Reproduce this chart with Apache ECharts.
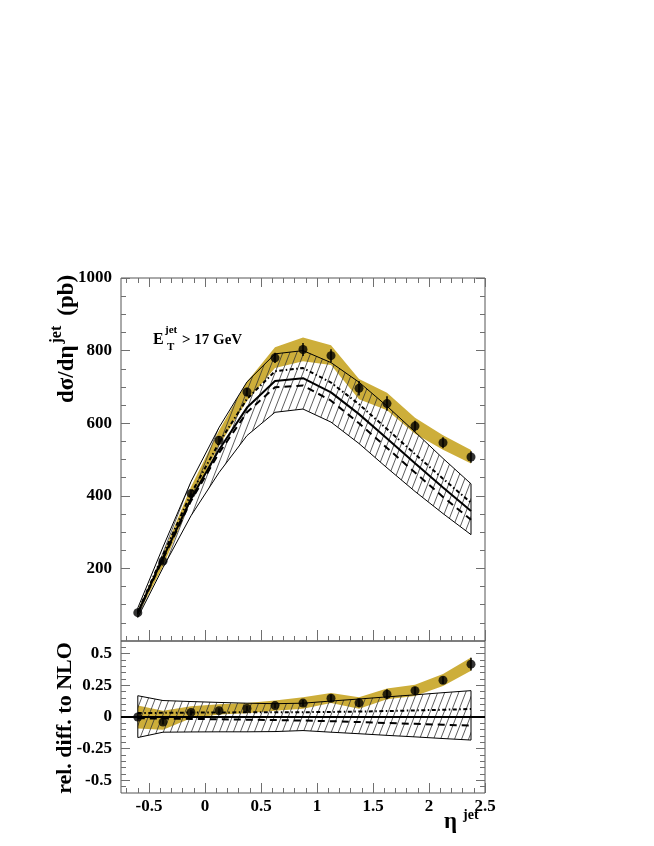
<!DOCTYPE html>
<html>
<head>
<meta charset="utf-8">
<script src="https://cdn.jsdelivr.net/npm/echarts@6/dist/echarts.min.js"></script>
<style>
html,body{margin:0;padding:0;background:#fff;}
#c{width:654px;height:846px;}
</style>
</head>
<body>
<div id="c"></div>
<script>
// ---------------- data ----------------
const eta = [-0.6, -0.375, -0.125, 0.125, 0.375, 0.625, 0.875, 1.125, 1.375, 1.625, 1.875, 2.125, 2.375];

// upper panel: d sigma / d eta (pb)
const dataXs   = [78, 220, 406, 553, 686, 780, 803, 786, 696, 654, 592, 546, 507];
const dataErr  = [4, 8, 10, 12, 12, 14, 18, 18, 20, 20, 15, 15, 16];
const scaleUp  = [85, 240, 425, 580, 714, 809, 836, 815, 722, 684, 615, 567, 526];
const scaleLow = [71, 206, 388, 538, 662, 752, 771, 760, 666, 636, 571, 527, 489];
const nlo      = [78, 229, 392, 527, 643, 716, 724, 685, 625, 558, 490, 423, 358];
const nloUp    = [91, 259, 439, 588, 714, 791, 800, 767, 713, 647, 576, 503, 433];
const nloLow   = [65, 202, 345, 464, 566, 630, 639, 603, 544, 477, 412, 351, 293];
const nloAlt1  = [80, 237, 406, 546, 667, 743, 752, 712, 652, 584, 515, 447, 381]; // dash-dot
const nloAlt2  = [77, 226, 386, 518, 630, 699, 704, 662, 600, 532, 464, 397, 334]; // dashed

// lower panel: relative difference to NLO
const relData     = [0.0, -0.04, 0.036, 0.05, 0.067, 0.09, 0.11, 0.148, 0.112, 0.18, 0.208, 0.29, 0.417];
const relErr      = [0.01, 0.02, 0.02, 0.02, 0.02, 0.02, 0.025, 0.03, 0.035, 0.04, 0.03, 0.03, 0.05];
const relScaleUp  = [0.09, 0.05, 0.085, 0.1, 0.11, 0.13, 0.155, 0.19, 0.155, 0.225, 0.255, 0.34, 0.47];
const relScaleLow = [-0.09, -0.1, -0.01, 0.02, 0.03, 0.05, 0.065, 0.11, 0.065, 0.14, 0.165, 0.245, 0.365];
const relNloUp    = [0.168, 0.13, 0.122, 0.115, 0.109, 0.105, 0.109, 0.126, 0.142, 0.159, 0.175, 0.192, 0.208];
const relNloLow   = [-0.162, -0.12, -0.118, -0.117, -0.117, -0.115, -0.107, -0.12, -0.132, -0.145, -0.157, -0.17, -0.182];
const relAlt1     = [0.031, 0.033, 0.035, 0.036, 0.037, 0.038, 0.038, 0.04, 0.043, 0.047, 0.052, 0.057, 0.063];
const relAlt2     = [-0.01, -0.012, -0.015, -0.018, -0.021, -0.024, -0.028, -0.033, -0.04, -0.047, -0.054, -0.061, -0.068];

// ticks
const xMajor = [-0.5, 0, 0.5, 1, 1.5, 2, 2.5];
const yTopMajor = [200, 400, 600, 800, 1000];
const yBotMajor = [-0.5, -0.25, 0, 0.25, 0.5];

// ---------------- helpers ----------------
const FONT = '"Liberation Serif", "DejaVu Serif", serif';
const yellow = '#cdae3a';
const tickColor = '#6f6f6f';

function minorVals(from, to, step, majors) {
  const out = [];
  const n = Math.round((to - from) / step);
  for (let i = 0; i <= n; i++) {
    const v = Math.round((from + i * step) * 1000) / 1000;
    if (!majors.some(m => Math.abs(m - v) < 1e-9)) out.push(v);
  }
  return out;
}
const xMinor = minorVals(-0.7, 2.4, 0.1, xMajor);
const yTopMinor = minorVals(50, 950, 50, yTopMajor.concat([0]));
const yBotMinor = minorVals(-0.55, 0.55, 0.05, yBotMajor);

const xAxes = [], yAxes = [];
function addAxis(list, grid, pos, min, max, values, len, labels) {
  const ax = {
    type: 'value', gridIndex: grid, position: pos, min: min, max: max,
    axisLine: { show: false, onZero: false }, splitLine: { show: false },
    axisTick: { show: true, inside: true, length: len, customValues: values,
      lineStyle: { color: tickColor, width: 1 } },
    axisLabel: { show: false }
  };
  if (labels) {
    ax.axisLabel = {
      show: true, customValues: values, margin: labels.margin,
      fontFamily: FONT, fontWeight: 'bold', fontSize: 17, color: '#000',
      formatter: v => String(v)
    };
  }
  list.push(ax);
  return list.length - 1;
}

// top panel axes
const X0 = addAxis(xAxes, 0, 'bottom', -0.75, 2.5, xMajor, 11, null);
addAxis(xAxes, 0, 'bottom', -0.75, 2.5, xMinor, 5, null);
addAxis(xAxes, 0, 'top', -0.75, 2.5, xMajor, 9, null);
addAxis(xAxes, 0, 'top', -0.75, 2.5, xMinor, 5, null);
const Y0 = addAxis(yAxes, 0, 'left', 0, 1000, yTopMajor, 9, { margin: 9 });
addAxis(yAxes, 0, 'left', 0, 1000, yTopMinor, 5, null);
addAxis(yAxes, 0, 'right', 0, 1000, yTopMajor, 9, null);
addAxis(yAxes, 0, 'right', 0, 1000, yTopMinor, 5, null);
// bottom panel axes
const X1 = addAxis(xAxes, 1, 'bottom', -0.75, 2.5, xMajor, 10, { margin: 5 });
addAxis(xAxes, 1, 'bottom', -0.75, 2.5, xMinor, 5, null);
const Y1 = addAxis(yAxes, 1, 'left', -0.6, 0.6, yBotMajor, 9, { margin: 9 });
addAxis(yAxes, 1, 'left', -0.6, 0.6, yBotMinor, 5, null);
addAxis(yAxes, 1, 'right', -0.6, 0.6, yBotMajor, 9, null);
addAxis(yAxes, 1, 'right', -0.6, 0.6, yBotMinor, 5, null);

function hatchPattern() {
  const w = 7, h = 18;
  const c = document.createElement('canvas');
  c.width = w; c.height = h;
  const g = c.getContext('2d');
  g.strokeStyle = '#333';
  g.lineWidth = 0.8;
  g.beginPath();
  for (let k = -1; k <= 1; k++) { g.moveTo(k * w, h); g.lineTo(k * w + w, 0); }
  g.stroke();
  return c;
}
const hatchFill = { image: hatchPattern(), repeat: 'repeat' };

function bandSeries(xi, yi, up, low, fill, stroke, z) {
  return {
    type: 'custom', xAxisIndex: xi, yAxisIndex: yi, z: z, clip: true, silent: true,
    data: [[eta[0], up[0]]],
    renderItem: function (params, api) {
      const pts = [];
      for (let i = 0; i < eta.length; i++) pts.push(api.coord([eta[i], up[i]]));
      for (let i = eta.length - 1; i >= 0; i--) pts.push(api.coord([eta[i], low[i]]));
      return { type: 'polygon', shape: { points: pts },
        style: { fill: fill, stroke: stroke, lineWidth: stroke ? 1 : 0 } };
    }
  };
}
function lineSeries(xi, yi, vals, type, width, z) {
  return {
    type: 'line', xAxisIndex: xi, yAxisIndex: yi, z: z, silent: true,
    symbol: 'none', data: eta.map((x, i) => [x, vals[i]]),
    lineStyle: { color: '#000', width: width, type: type, cap: 'butt' }
  };
}
function errSeries(xi, yi, vals, errs) {
  return {
    type: 'custom', xAxisIndex: xi, yAxisIndex: yi, z: 8, silent: true,
    data: eta.map((x, i) => [x, vals[i], errs[i]]),
    renderItem: function (params, api) {
      const x = api.value(0), y = api.value(1), e = api.value(2);
      const a = api.coord([x, y - e]), b = api.coord([x, y + e]);
      return { type: 'line', shape: { x1: a[0], y1: a[1], x2: b[0], y2: b[1] },
        style: { stroke: '#000', lineWidth: 1.5 } };
    }
  };
}
function pointSeries(xi, yi, vals) {
  return {
    type: 'scatter', xAxisIndex: xi, yAxisIndex: yi, z: 9, silent: true,
    symbol: 'circle', symbolSize: 9, itemStyle: { color: '#000' },
    data: eta.map((x, i) => [x, vals[i]])
  };
}

const dashDot = [4, 2.5, 1.5, 2.5];
const dashed = [7, 5];

const series = [
  bandSeries(X0, Y0, scaleUp, scaleLow, yellow, null, 1),
  bandSeries(X0, Y0, nloUp, nloLow, hatchFill, '#000', 2),
  lineSeries(X0, Y0, nlo, 'solid', 2, 5),
  lineSeries(X0, Y0, nloAlt1, dashDot, 2, 5),
  lineSeries(X0, Y0, nloAlt2, dashed, 2, 5),
  errSeries(X0, Y0, dataXs, dataErr),
  pointSeries(X0, Y0, dataXs),

  bandSeries(X1, Y1, relScaleUp, relScaleLow, yellow, null, 1),
  bandSeries(X1, Y1, relNloUp, relNloLow, hatchFill, '#000', 2),
  lineSeries(X1, Y1, relAlt1, dashDot, 2, 5),
  Object.assign(lineSeries(X1, Y1, relAlt2, dashed, 2, 5), {
    markLine: { silent: true, symbol: 'none', label: { show: false },
      lineStyle: { color: '#000', width: 1.8, type: 'solid' },
      data: [{ yAxis: 0 }] }
  }),
  errSeries(X1, Y1, relData, relErr),
  pointSeries(X1, Y1, relData)
];

// -------- text helpers --------
const mctx = document.createElement('canvas').getContext('2d');
function tw(text, font) { mctx.font = font; return mctx.measureText(text).width; }
const fMain = 'bold 23px ' + FONT;
const fBot = 'bold 22px ' + FONT;
const fSup = 'bold 16px ' + FONT;
const fLab = 'bold 15px ' + FONT;
const fSmall = 'bold 11px ' + FONT;

function txt(x, y, text, font, align, valign) {
  return { type: 'text', x: x, y: y, silent: true,
    style: { text: text, font: font, fill: '#000', textAlign: align || 'left', textVerticalAlign: valign || 'middle' } };
}

// rotated y title (top)
const w1 = tw('dσ/dη', fMain), w2 = tw('jet', fSup);
const yTitleTop = {
  type: 'group', x: 67, y: 403, rotation: Math.PI / 2, silent: true,
  children: [
    txt(0, 0, 'dσ/dη', fMain),
    txt(w1 + 2, -10, 'jet', fSup),
    txt(w1 + w2 + 12, 0, '(pb)', fMain)
  ]
};
const yTitleBot = {
  type: 'group', x: 65, y: 718, rotation: Math.PI / 2, silent: true,
  children: [ txt(0, 0, 'rel. diff. to NLO', fBot, 'center') ]
};

const graphics = [
  yTitleTop, yTitleBot,
  txt(153, 340, 'E', 'bold 16px ' + FONT),
  txt(165, 330, 'jet', fSmall),
  txt(167, 347, 'T', fSmall),
  txt(182, 340, '> 17 GeV', fLab),
  txt(444, 822, 'η', fMain),
  txt(463, 815, 'jet', 'bold 14px ' + FONT)
];

const chart = echarts.init(document.getElementById('c'), null, { renderer: 'canvas' });
chart.setOption({
  animation: false,
  backgroundColor: '#fff',
  grid: [
    { left: 121, top: 278, width: 364, height: 363, show: true, borderColor: '#555', borderWidth: 1, backgroundColor: 'transparent' },
    { left: 121, top: 641, width: 364, height: 152, show: true, borderColor: '#555', borderWidth: 1, backgroundColor: 'transparent' }
  ],
  xAxis: xAxes,
  yAxis: yAxes,
  series: series,
  graphic: graphics
});
</script>
</body>
</html>
